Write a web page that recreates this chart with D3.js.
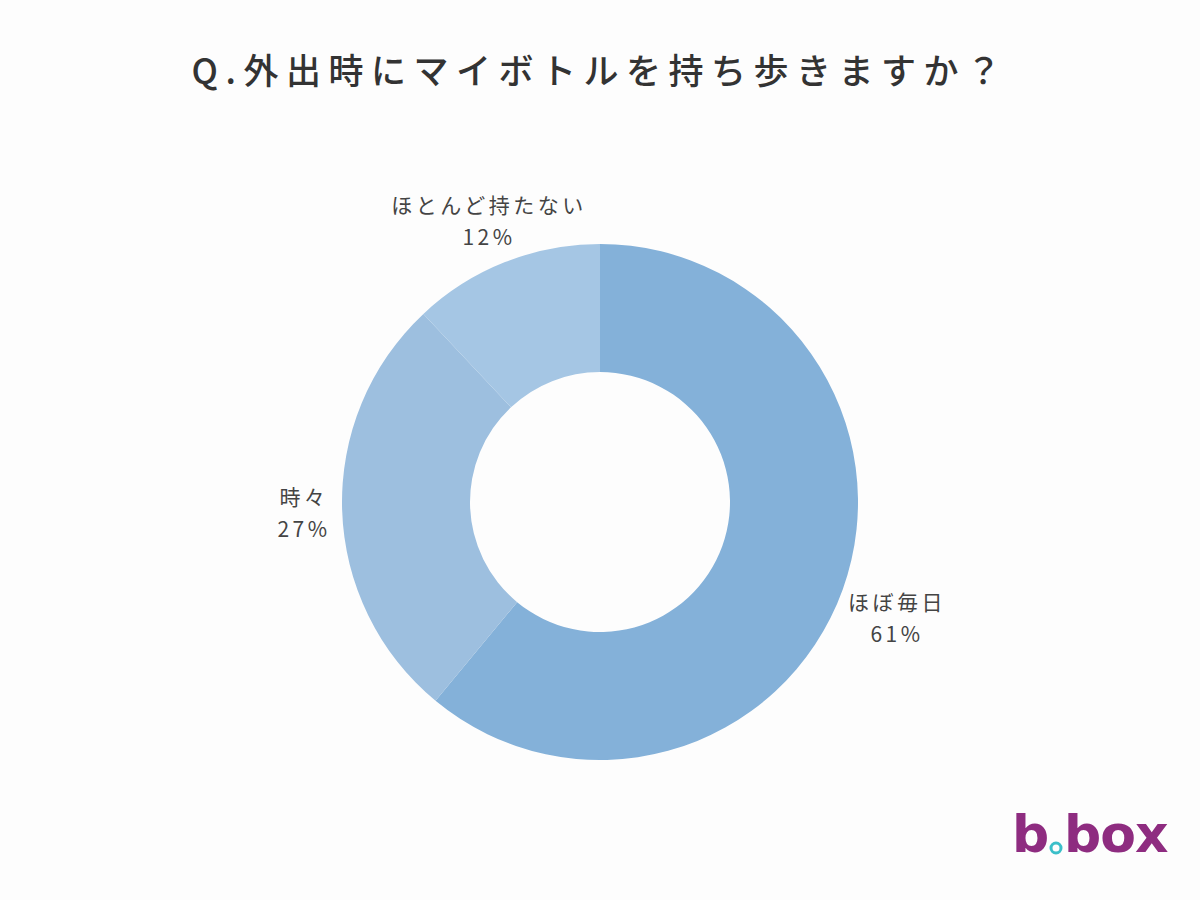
<!DOCTYPE html><html><head><meta charset="utf-8">
<script src="https://cdn.jsdelivr.net/npm/d3@7"></script>
<style>body{margin:0;background:#fdfdfd}</style></head><body>
<svg id="c" width="1200" height="900"></svg>
<script>
const categories=["ほぼ毎日","時々","ほとんど持たない"];
const values=[61,27,12];
const colors=["#84b1d9","#9dbfdf","#a5c6e4"];
const svg=d3.select("#c");
svg.append("rect").attr("width",1200).attr("height",900).attr("fill","#fdfdfd");
const font="'Noto Sans CJK JP', sans-serif";
svg.append("text").attr("x",600).attr("y",84).attr("text-anchor","middle")
 .attr("font-family",font).attr("font-size",35).attr("font-weight",500).attr("letter-spacing",7.5)
 .attr("fill","#333").text("Q.外出時にマイボトルを持ち歩きますか？");
const g=svg.append("g").attr("transform","translate(600,502)");
const pie=d3.pie().sort(null)(values);
const arc=d3.arc().innerRadius(130).outerRadius(258);
g.selectAll("path").data(pie).join("path").attr("d",arc).attr("fill",(d,i)=>colors[i]);
const lpos=[[897,602],[304,497],[489,205]];
categories.forEach((c,i)=>{
 const t=svg.append("text").attr("text-anchor","middle").attr("font-family",font)
  .attr("font-size",21).attr("letter-spacing",3.5).attr("fill","#444");
 t.append("tspan").attr("x",lpos[i][0]).attr("y",lpos[i][1]+8).text(c);
 t.append("tspan").attr("x",lpos[i][0]).attr("y",lpos[i][1]+40).text(values[i]+"%");
});
const lg=svg.append("g");
lg.append("text").attr("x",1012).attr("y",852).attr("font-family","'DejaVu Sans', sans-serif")
 .attr("font-size",52).attr("font-weight","bold").attr("fill","#8e2c80").attr("letter-spacing",-1)
 .text("b");
lg.append("circle").attr("cx",1056).attr("cy",848).attr("r",5).attr("fill","none").attr("stroke","#3bbfc9").attr("stroke-width",3);
lg.append("text").attr("x",1064).attr("y",852).attr("font-family","'DejaVu Sans', sans-serif")
 .attr("font-size",52).attr("font-weight","bold").attr("fill","#8e2c80").attr("letter-spacing",-1)
 .text("box");
</script></body></html>
